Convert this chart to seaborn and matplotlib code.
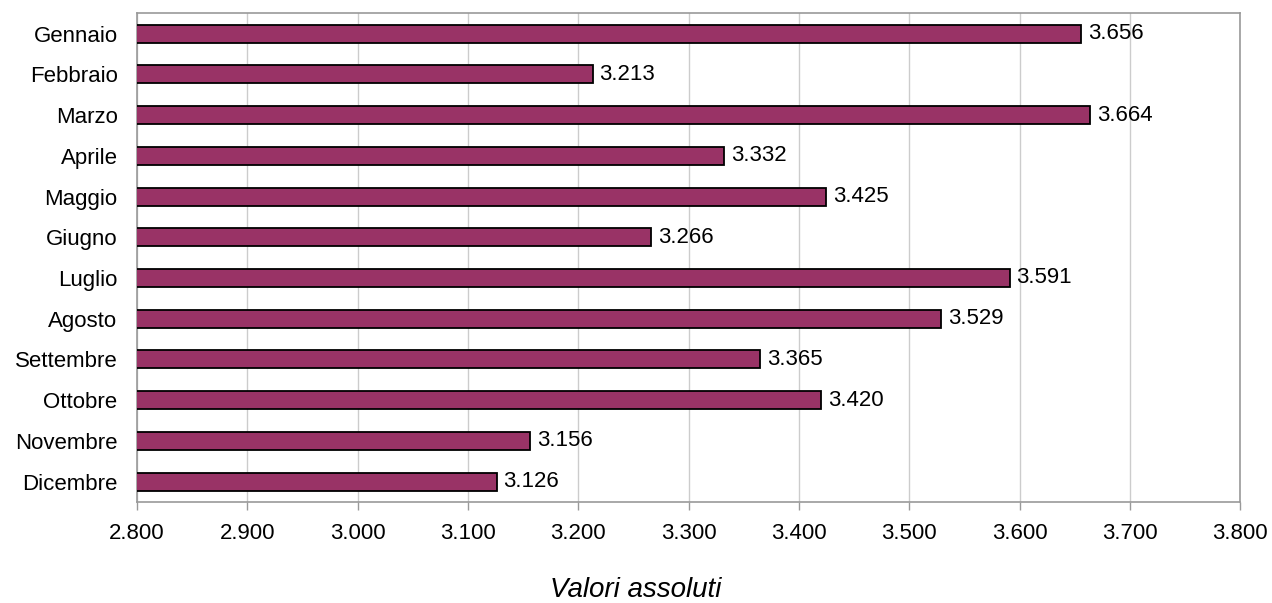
import numpy as np
import pandas as pd
import seaborn as sns
from matplotlib import pyplot as plt
from matplotlib.ticker import FuncFormatter

mesi = ["Gennaio", "Febbraio", "Marzo", "Aprile", "Maggio", "Giugno",
        "Luglio", "Agosto", "Settembre", "Ottobre", "Novembre", "Dicembre"]
valori = [3656, 3213, 3664, 3332, 3425, 3266, 3591, 3529, 3365, 3420, 3156, 3126]

df = pd.DataFrame({"mese": mesi, "valore": valori})

sns.set_style("white")
plt.rcParams['font.family'] = ['Liberation Sans', 'DejaVu Sans']
plt.rcParams['text.color'] = 'black'
plt.rcParams['xtick.color'] = 'black'
plt.rcParams['ytick.color'] = 'black'

fig = plt.figure(figsize=(12.72, 6.03), dpi=100)
ax = fig.add_axes([0.1077, 0.1675, 0.975 - 0.1077, 0.978 - 0.1675])

sns.barplot(x="valore", y="mese", data=df, orient="h", color="#993366",
            edgecolor="black", linewidth=1.3, width=0.44, saturation=1, ax=ax, zorder=3)

ax.set_xlim(2800, 3800)
ax.set_ylim(11.5, -0.5)
ax.set_xticks(np.arange(2800, 3801, 100))
ax.xaxis.set_major_formatter(FuncFormatter(lambda v, p: f"{int(v):,}".replace(",", ".")))
ax.grid(axis="x", color="#cccccc", linewidth=1, zorder=0)
ax.set_axisbelow(True)

# confini tra le categorie come tacche
ax.set_yticks(np.arange(-0.5, 12, 1), minor=True)
ax.tick_params(axis="y", which="major", length=0, pad=14, labelsize=16)
ax.tick_params(axis="y", which="minor", length=5, color="#999999", width=1)
ax.tick_params(axis="x", which="major", length=6, color="#999999", width=1,
               labelsize=16, pad=9, bottom=True)

for s in ax.spines.values():
    s.set_color("#999999")
    s.set_linewidth(1.2)

for i, v in enumerate(valori):
    ax.annotate(f"{v:,}".replace(",", "."), xy=(v, i), xytext=(5, 0),
                textcoords="offset points", va="center", ha="left", fontsize=16)

ax.set_ylabel("")
ax.set_xlabel("")
fig.text(0.5, 1 - 590 / 603, "Valori assoluti", fontsize=20, fontstyle="italic",
         ha="center", va="center")

fig.savefig("out.png", dpi=100)
